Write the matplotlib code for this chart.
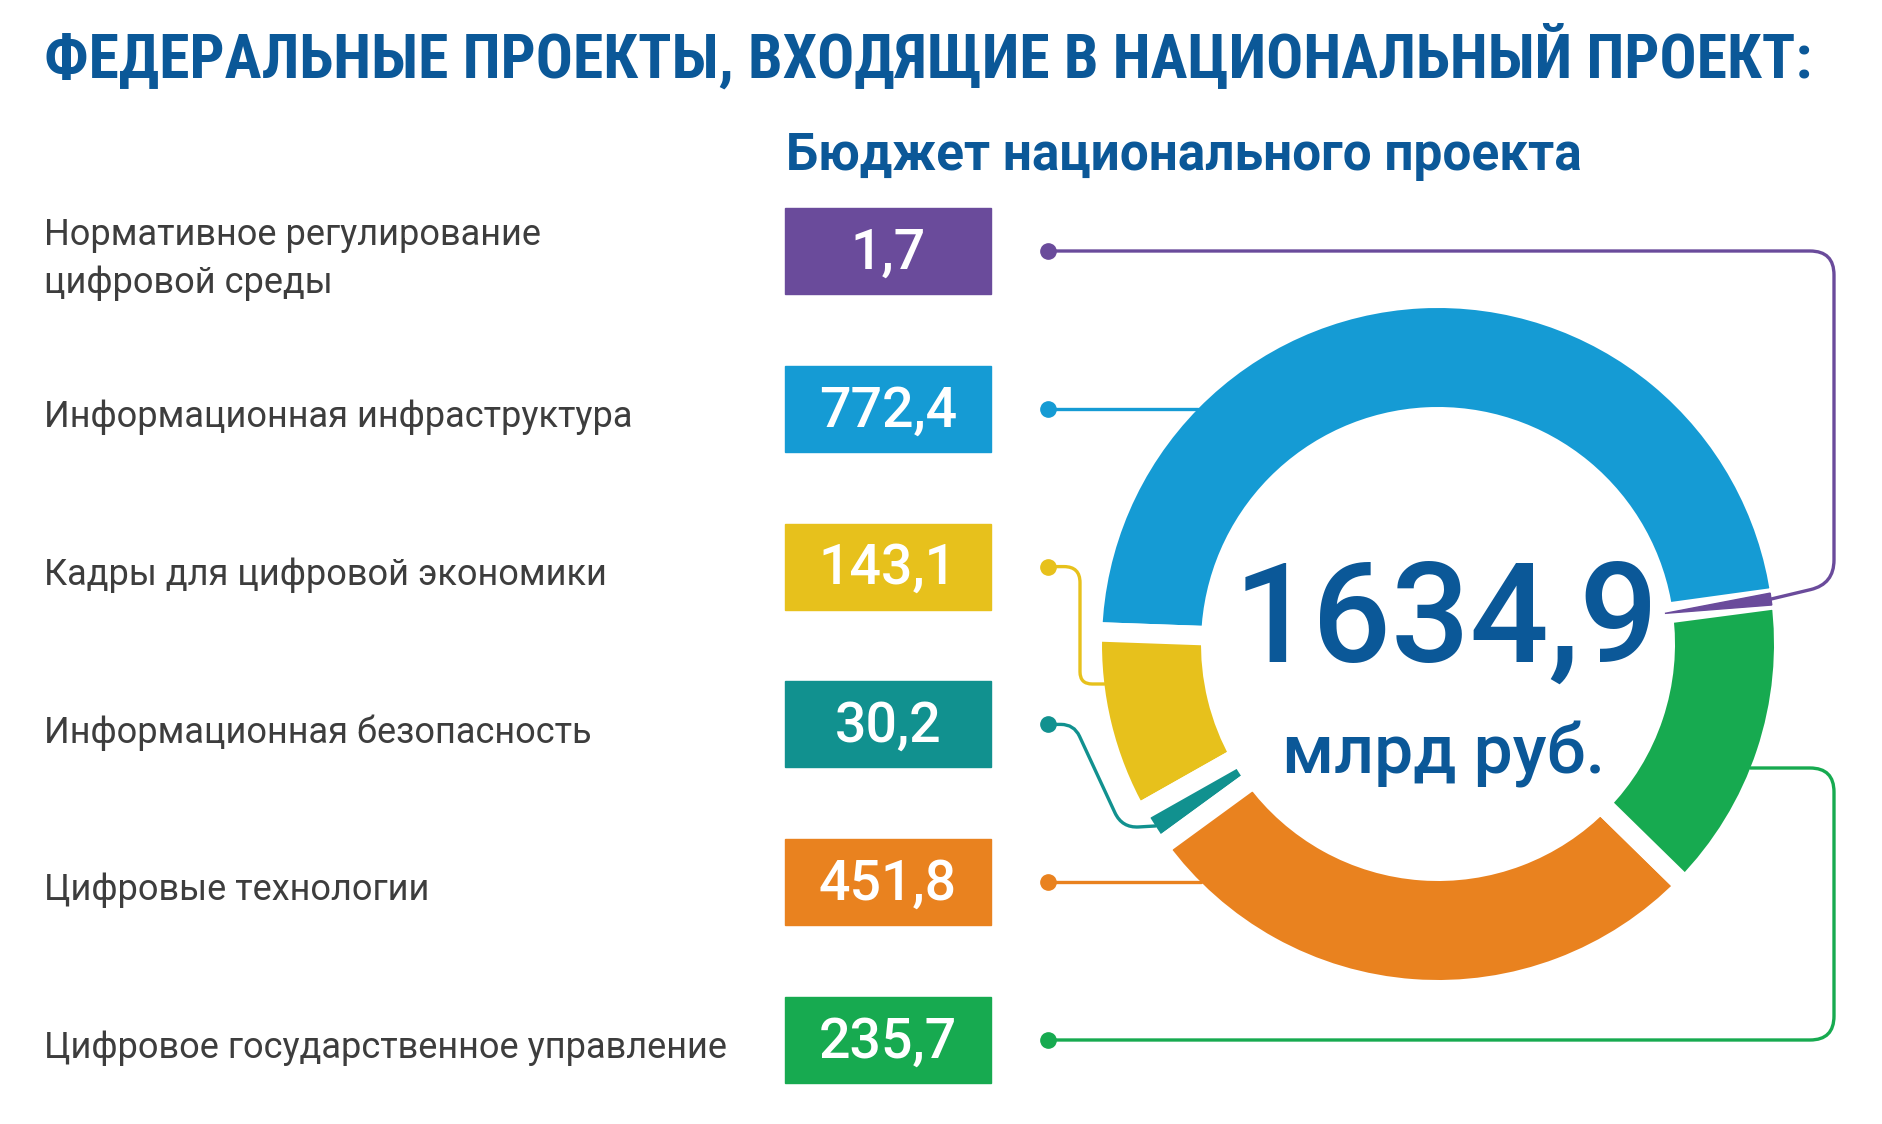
import numpy as np
import matplotlib
matplotlib.use("Agg")
import matplotlib.pyplot as plt
import matplotlib.font_manager as fm
from matplotlib.patches import Rectangle, Polygon, PathPatch
from matplotlib.path import Path


projects = [
    "Нормативное регулирование\nцифровой среды",
    "Информационная инфраструктура",
    "Кадры для цифровой экономики",
    "Информационная безопасность",
    "Цифровые технологии",
    "Цифровое государственное управление",
]

budget = [1.7, 772.4, 143.1, 30.2, 451.8, 235.7]

colors = [
    "#6a4b9b",
    "#159bd4",
    "#e7c11c",
    "#11918f",
    "#e9821f",
    "#17aa50",
]

title = "ФЕДЕРАЛЬНЫЕ ПРОЕКТЫ, ВХОДЯЩИЕ В НАЦИОНАЛЬНЫЙ ПРОЕКТ:"
subtitle = "Бюджет национального проекта"
unit = "млрд руб."

DARK_BLUE = "#0b5898"
TEXT_GRAY = "#3d3d3d"

W, H = 1882, 1124


def fmt(v):

    return f"{v:.1f}".replace(".", ",")


def pick_family(candidates, fallback="Roboto"):

    names = {f.name for f in fm.fontManager.ttflist}

    found = [n for n in candidates if n in names]

    return found + [fallback, "DejaVu Sans"]


def rounded_path(points, radius=24):

    pts = [np.array(p, dtype=float) for p in points]

    verts = [pts[0]]
    codes = [Path.MOVETO]

    for i in range(1, len(pts) - 1):

        p0, p1, p2 = pts[i - 1], pts[i], pts[i + 1]

        l0 = np.linalg.norm(p1 - p0)
        l1 = np.linalg.norm(p2 - p1)

        r = min(radius, l0 / 2, l1 / 2)

        a = p1 - (p1 - p0) / l0 * r
        b = p1 + (p2 - p1) / l1 * r

        verts += [a, p1, b]
        codes += [Path.LINETO, Path.CURVE3, Path.CURVE3]

    verts.append(pts[-1])
    codes.append(Path.LINETO)

    return Path(verts, codes)


def fit_width(fig, txt, target):

    renderer = fig.canvas.get_renderer()

    w = txt.get_window_extent(renderer).width

    if w > target:
        txt.set_fontsize(txt.get_fontsize() * target / w)


fig = plt.figure(figsize=(W / 100, H / 100), dpi=100)
fig.patch.set_facecolor("white")

ax = fig.add_axes([0, 0, 1, 1])

# ring geometry (pixels, y up)
cx, cy = 1438, H - 644
r_out, r_in = 336, 237
gap_pt = 14
gap_px = gap_pt * 100 / 72

wedges, _ = ax.pie(
    budget,
    colors=colors,
    startangle=7.5,
    counterclock=True,
    center=(cx, cy),
    radius=r_out + gap_px / 2,
    wedgeprops=dict(
        width=r_out - r_in + gap_px,
        edgecolor="white",
        linewidth=gap_pt
    ),
    frame=True
)

ax.set_xlim(0, W)
ax.set_ylim(0, H)
ax.set_aspect("equal")
ax.axis("off")


def ring_point(angle_deg, r):

    a = np.deg2rad(angle_deg)

    return cx + r * np.cos(a), cy + r * np.sin(a)


def circle_x_at(y, side=-1):

    return cx + side * np.sqrt(r_out ** 2 - (y - cy) ** 2)


mid = [(w.theta1 + w.theta2) / 2 for w in wedges]

# tiny purple share drawn as a needle across the ring
u = np.array([np.cos(np.deg2rad(mid[0])), np.sin(np.deg2rad(mid[0]))])
n = np.array([-u[1], u[0]])
tip = np.array([cx, cy]) + (r_in - 8) * u
base = np.array([cx, cy]) + r_out * u

ax.add_patch(
    Polygon(
        [tip, base + 6 * n, base - 6 * n],
        closed=True,
        color=colors[0],
        zorder=3
    )
)

# rows on the left
row_y = [251 + i * 157.8 for i in range(len(projects))]

box_x, box_w, box_h = 785, 206, 86
dot_x = 1048
lw = 2.4

label_font = ["Roboto", "DejaVu Sans"]

for i, (name, value, color) in enumerate(zip(projects, budget, colors)):

    yc = H - row_y[i]

    ax.text(
        44, yc - 8,
        name,
        fontsize=26,
        color=TEXT_GRAY,
        family=label_font,
        ha="left",
        va="center",
        linespacing=1.45
    )

    ax.add_patch(
        Rectangle(
            (box_x, yc - box_h / 2),
            box_w, box_h,
            color=color,
            zorder=2
        )
    )

    ax.text(
        box_x + box_w / 2, yc - 2,
        fmt(value),
        fontsize=40,
        color="white",
        family=label_font,
        weight="medium",
        ha="center",
        va="center",
        zorder=3
    )

    ax.plot(
        dot_x, yc,
        "o",
        color=color,
        markersize=11,
        zorder=4
    )

# connectors
right_x = 1834

paths = []

# purple: out to the right edge and down to the needle
paths.append([
    (dot_x, H - row_y[0]),
    (right_x, H - row_y[0]),
    (right_x, cy + 60),
    (base[0], base[1])
])

# blue
y1 = H - row_y[1]
paths.append([(dot_x, y1), (circle_x_at(y1), y1)])

# yellow
y2 = H - row_y[2]
y2b = H - 684
paths.append([
    (dot_x, y2),
    (1080, y2),
    (1080, y2b),
    (circle_x_at(y2b), y2b)
])

# teal
y3 = H - row_y[3]
tx, ty = ring_point(mid[3], r_out)
paths.append([
    (dot_x, y3),
    (1074, y3),
    (1122, ty - 2),
    (tx, ty)
])

# orange
y4 = H - row_y[4]
paths.append([(dot_x, y4), (circle_x_at(y4), y4)])

# green
y5 = H - row_y[5]
yg = H - 768
paths.append([
    (circle_x_at(yg, side=1), yg),
    (right_x, yg),
    (right_x, y5),
    (dot_x, y5)
])

for pts, color in zip(paths, colors):

    ax.add_patch(
        PathPatch(
            rounded_path(pts),
            facecolor="none",
            edgecolor=color,
            linewidth=lw,
            capstyle="round",
            zorder=2.5
        )
    )

# centre of the ring
ax.text(
    cx + 8, H - 623,
    fmt(sum(budget)),
    fontsize=100,
    color=DARK_BLUE,
    family=label_font,
    weight="medium",
    ha="center",
    va="center",
    zorder=5
)

ax.text(
    cx + 6, H - 754,
    unit,
    fontsize=50,
    color=DARK_BLUE,
    family=label_font,
    weight="medium",
    ha="center",
    va="center",
    zorder=5
)

# titles
head_family = pick_family(
    ["Liberation Sans Narrow", "Roboto Condensed", "Open Sans Condensed"]
)

t_title = ax.text(
    44, H - 56,
    title,
    fontsize=46,
    color=DARK_BLUE,
    family=head_family,
    weight="bold",
    stretch="condensed",
    ha="left",
    va="center"
)

t_sub = ax.text(
    786, H - 156,
    subtitle,
    fontsize=37,
    color=DARK_BLUE,
    family=label_font,
    weight="bold",
    ha="left",
    va="center"
)

fit_width(fig, t_title, 1765)
fit_width(fig, t_sub, 816)

fig.savefig("out.png", dpi=100, facecolor="white")
